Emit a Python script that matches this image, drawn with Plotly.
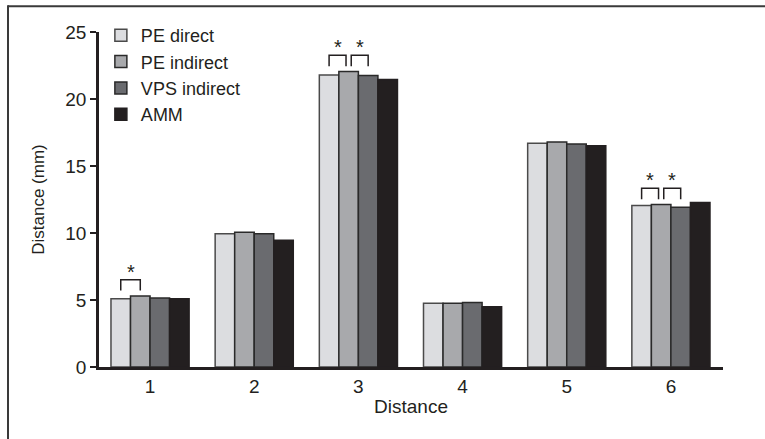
import plotly.graph_objects as go

categories = ["1", "2", "3", "4", "5", "6"]
series_names = ["PE direct", "PE indirect", "VPS indirect", "AMM"]
pe_direct = [5.1, 9.95, 21.8, 4.75, 16.7, 12.05]
pe_indirect = [5.3, 10.05, 22.05, 4.75, 16.8, 12.12]
vps_indirect = [5.15, 9.95, 21.75, 4.82, 16.65, 11.93]
amm = [5.1, 9.45, 21.45, 4.5, 16.52, 12.28]
y_ticks = [0, 5, 10, 15, 20, 25]
# significance brackets: category index -> list of (bar a, bar b) pairs
significant_pairs = {0: [(0, 1)], 2: [(0, 1), (1, 2)], 5: [(0, 1), (1, 2)]}

series_values = [pe_direct, pe_indirect, vps_indirect, amm]
fill_colors = ["#dcdde0", "#a8a9ac", "#6a6b6f", "#231f20"]
line_colors = ["#4a4a4a", "#2a2a2a", "#2a2a2a", "#231f20"]

fig = go.Figure()
xidx = list(range(len(categories)))
for i, (name, vals) in enumerate(zip(series_names, series_values)):
    fig.add_trace(go.Bar(
        x=xidx, y=vals, name=name, legendgroup=name,
        marker=dict(color=fill_colors[i], line=dict(color=line_colors[i], width=1.5)),
    ))

bargap = 0.25
nser = len(series_names)
bw = (1 - bargap) / nser
def bar_center(cat, s):
    return cat - (1 - bargap) / 2 + bw * (s + 0.5)

shapes = []
annotations = []
for cat, pairs in significant_pairs.items():
    involved = set()
    for a, b in pairs:
        involved.update([a, b])
    base = max(series_values[s][cat] for s in involved) + 0.4
    top = base + 0.82
    for a, b in pairs:
        x0 = bar_center(cat, a)
        x1 = bar_center(cat, b)
        if a > 0 and any(p[1] == a for p in pairs):
            x0 += 0.025
        if any(p[0] == b for p in pairs):
            x1 -= 0.025
        shapes.append(dict(type="path", xref="x", yref="y",
                           path=f"M {x0},{base} L {x0},{top} L {x1},{top} L {x1},{base}",
                           line=dict(color="#231f20", width=1.5)))
        annotations.append(dict(x=(x0 + x1) / 2, y=top, xref="x", yref="y",
                                text="*", showarrow=False, yanchor="bottom",
                                yshift=-5,
                                font=dict(size=20, color="#231f20",
                                          family="Liberation Sans")))

# outer frame lines (top and left)
shapes.append(dict(type="line", xref="paper", yref="paper",
                   x0=(8 - 99) / 624, x1=(770 - 99) / 624,
                   y0=(367 - 6) / 335.3, y1=(367 - 6) / 335.3,
                   line=dict(color="#3a3a3a", width=2)))
shapes.append(dict(type="line", xref="paper", yref="paper",
                   x0=(8 - 99) / 624, x1=(8 - 99) / 624,
                   y0=(367 - 5) / 335.3, y1=(367 - 445) / 335.3,
                   line=dict(color="#3a3a3a", width=2)))

font_family = "Liberation Sans, Arial, sans-serif"
fig.update_layout(
    width=765, height=439,
    margin=dict(l=99, r=42, t=32, b=72),
    paper_bgcolor="white", plot_bgcolor="white",
    barmode="group", bargap=bargap, bargroupgap=0,
    font=dict(family=font_family, size=17, color="#231f20"),
    showlegend=True,
    legend=dict(x=0.003, y=1.045, xanchor="left", yanchor="top",
                bgcolor="rgba(0,0,0,0)", font=dict(size=18),
                tracegroupgap=0, itemwidth=30),
    shapes=shapes, annotations=annotations,
    xaxis=dict(tickvals=xidx, ticktext=categories, range=[-0.49, 5.5],
               showline=True, linecolor="#231f20", linewidth=2.5,
               ticks="", showgrid=False, zeroline=False,
               title=dict(text="Distance", standoff=5, font=dict(size=19)),
               tickfont=dict(size=19)),
    yaxis=dict(range=[0, 25], tickvals=y_ticks, showline=True,
               linecolor="#231f20", linewidth=2.5, ticks="outside",
               ticklen=6, tickwidth=2, tickcolor="#231f20",
               showgrid=False, zeroline=False,
               title=dict(text="Distance (mm)", standoff=17, font=dict(size=17)),
               tickfont=dict(size=19)),
)

fig.write_html("out.html", config={"displayModeBar": False},
               post_script="document.body.style.margin='0';document.body.style.overflow='hidden';")
